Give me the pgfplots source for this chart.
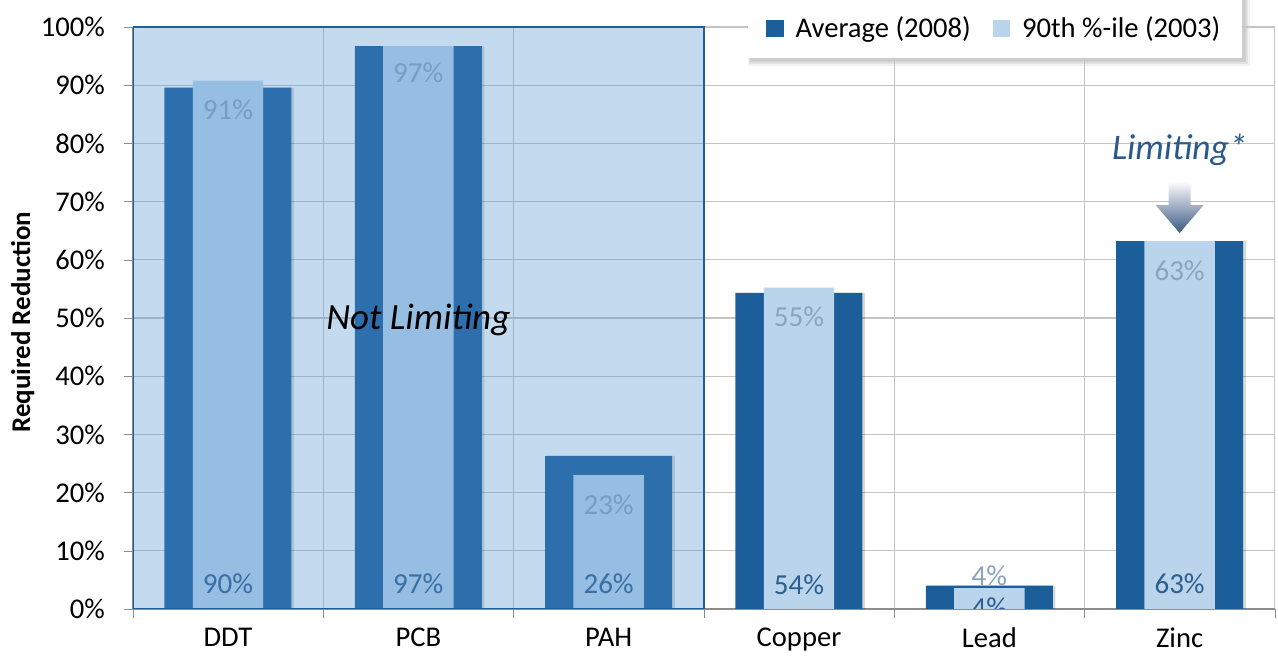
\documentclass[border=0pt]{standalone}
\usepackage{fontspec}
\setmainfont{Carlito}
\usepackage{pgfplots}
\pgfplotsset{compat=1.18}
\usetikzlibrary{backgrounds}

\definecolor{darkbar}{HTML}{1B5E9A}
\definecolor{lightbar}{HTML}{BAD4EC}
\definecolor{panelblue}{HTML}{5192D0}
\definecolor{frameblue}{HTML}{1F5F99}
\definecolor{gridgray}{HTML}{C4C4C4}
\definecolor{axisgray}{HTML}{8C8C8C}
\definecolor{darklab}{HTML}{2C5E90}
\definecolor{lightlab}{HTML}{8CA3BE}
\definecolor{limitblue}{HTML}{2B5A8A}
\definecolor{arrowblue}{HTML}{3A5882}

% values (0 = DDT ... 5 = Zinc)
\pgfplotstableread{
x avg p90
0 89.6 90.8
1 96.7 96.7
2 26.3 23.0
3 54.3 55.2
4 4.0 3.6
5 63.2 63.2
}\reductions

\begin{document}
\begin{tikzpicture}
\useasboundingbox (-66.4pt,-26.5pt) rectangle (572.6pt,304.5pt);
\begin{axis}[
  at={(0,0)}, anchor=south west,
  scale only axis,
  width=571pt, height=291pt,
  xmin=-0.5, xmax=5.5,
  ymin=0, ymax=100,
  axis x line*=bottom,
  axis y line*=left,
  axis line style={axisgray, line width=0.6pt},
  xtick={0,...,5},
  xticklabels={DDT,PCB,PAH,Copper,Lead,Zinc},
  minor xtick={-0.5,0.5,...,5.5},
  major x tick style={draw=none},
  minor x tick style={axisgray},
  xminorgrids,
  ytick={0,10,...,100},
  yticklabels={0\%,10\%,20\%,30\%,40\%,50\%,60\%,70\%,80\%,90\%,100\%},
  ymajorgrids,
  grid style={gridgray, line width=0.6pt},
  major y tick style={axisgray},
  tick align=outside,
  major tick length=4.5pt,
  minor tick length=4.5pt,
  tick label style={font=\fontsize{14.3}{16}\selectfont, text=black},
  xticklabel style={yshift=-1.5pt},
  yticklabel style={xshift=-6pt},
  ylabel={Required Reduction},
  every axis y label/.style={at={(axis description cs:-0.0963,0.493)}, rotate=90, anchor=center,
    font=\fontsize{13.5}{15}\selectfont\bfseries},
  legend columns=2,
  legend style={
    at={(axis description cs:0.972,1)}, anchor=north east, yshift=14.5pt,
    name=leg, draw=none, fill=white,
    font=\fontsize{14.3}{16}\selectfont,
    inner xsep=9pt, inner ysep=7pt,
    /tikz/every odd column/.append style={column sep=4pt},
    /tikz/every even column/.append style={column sep=9pt},
  },
  legend image code/.code={\fill[#1,draw=none] (0pt,-4.3pt) rectangle (8.6pt,4.3pt);},
]
% drop shadow of the wide bars
\addplot[ybar, bar width=0.667, bar shift=0.014, fill=black, fill opacity=0.15, draw=none, forget plot]
  table[x=x, y=avg] {\reductions};
\addplot[ybar, bar width=0.667, bar shift=0, fill=darkbar, draw=none]
  table[x=x, y=avg] {\reductions};
\addplot[ybar, bar width=0.37, bar shift=0, fill=lightbar, draw=none]
  table[x=x, y=p90] {\reductions};
\legend{Average (2008), 90th \%-ile (2003)}

% data labels
\begin{scope}[every node/.style={font=\fontsize{14.5}{16}\selectfont, inner sep=0pt}]
\node[text=darklab] at (axis cs:0,4.4) {90\%};
\node[text=darklab] at (axis cs:1,4.4) {97\%};
\node[text=darklab] at (axis cs:2,4.4) {26\%};
\node[text=darklab] at (axis cs:3,4.1) {54\%};
\node[text=darklab] at (axis cs:4,0.2) {4\%};
\node[text=darklab] at (axis cs:5,4.4) {63\%};
\node[text=lightlab] at (axis cs:0,85.7) {91\%};
\node[text=lightlab] at (axis cs:1,92.1) {97\%};
\node[text=lightlab] at (axis cs:2,17.9) {23\%};
\node[text=lightlab] at (axis cs:3,50.3) {55\%};
\node[text=lightlab] at (axis cs:4,5.8) {4\%};
\node[text=lightlab] at (axis cs:5,58.2) {63\%};
\end{scope}

% "not limiting" panel
\fill[panelblue, fill opacity=0.34] (axis cs:-0.5,0) rectangle (axis cs:2.5,100);
\draw[frameblue, line width=1pt] (axis cs:-0.5,0) rectangle (axis cs:2.5,100);
\node[font=\fontsize{18.5}{20}\selectfont\itshape, text=black] at (axis cs:1,49.7) {Not Limiting};

% "limiting" callout
\node[font=\fontsize{18}{20}\selectfont\itshape, text=limitblue] at (axis cs:5,78.9) {Limiting*};
\shade[top color=white, bottom color=arrowblue]
  (axis cs:4.942,73.5) -- (axis cs:5.058,73.5) -- (axis cs:5.058,69.4) -- (axis cs:5.126,69.4)
  -- (axis cs:5,64.6) -- (axis cs:4.874,69.4) -- (axis cs:4.942,69.4) -- cycle;
\end{axis}
% soft shadow behind the legend box
\begin{scope}[on background layer]
  \fill[black, opacity=0.05] ([xshift=0pt,yshift=-3.5pt]leg.south west) rectangle ([xshift=3.5pt,yshift=-1pt]leg.north east);
  \fill[black, opacity=0.07] ([xshift=0.5pt,yshift=-2.5pt]leg.south west) rectangle ([xshift=2.5pt,yshift=-1pt]leg.north east);
  \fill[black, opacity=0.09] ([xshift=1pt,yshift=-1.5pt]leg.south west) rectangle ([xshift=1.5pt,yshift=-1pt]leg.north east);
\end{scope}
\end{tikzpicture}
\end{document}
